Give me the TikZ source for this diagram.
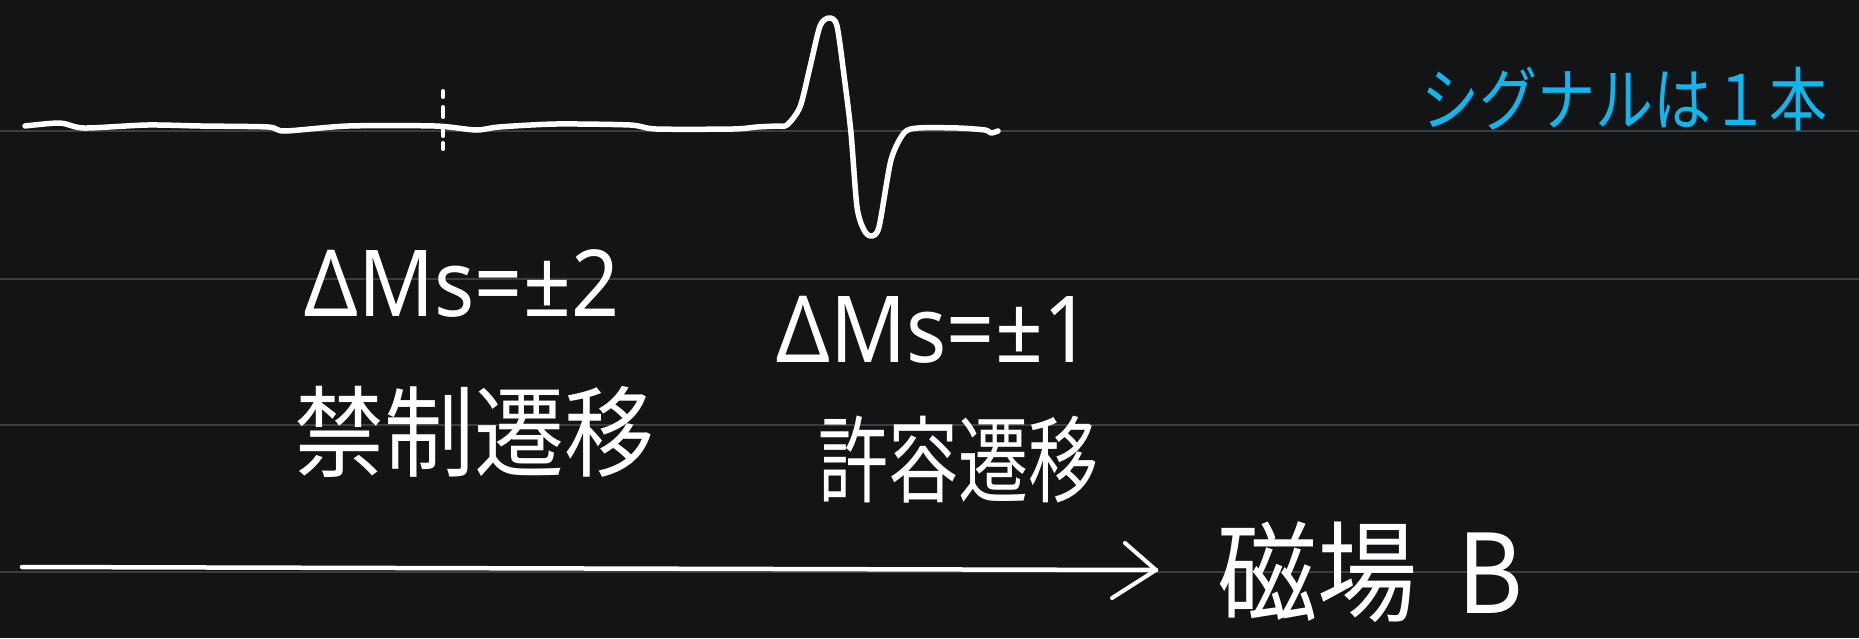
\documentclass[tikz,border=0pt]{standalone}
\usepackage{fontspec}
\setmainfont{Noto Sans CJK JP}
\newfontfamily\latin{Noto Sans}
\definecolor{bg}{HTML}{131416}
\definecolor{ruleline}{HTML}{3C3D40}
\definecolor{ink}{HTML}{FFFFFF}
\definecolor{sky}{HTML}{12B6EF}
\tikzset{
  rulestyle/.style={draw=ruleline, line width=2pt},
  trace/.style={draw=ink, line width=5.5pt, line cap=round, line join=round},
  handtext/.style={text=ink, inner sep=0pt},
}
\begin{document}
\begin{tikzpicture}[x=1pt,y=-1pt]
\fill[bg] (0,0) rectangle (1859,638);
\useasboundingbox (0,0) rectangle (1859,638);
% ruled lines
\foreach \yy in {131,279,425,572} \draw[rulestyle] (0,\yy) -- (1859,\yy);
% signal trace
\draw[trace] plot[smooth, tension=0.45] coordinates {
 (25,126) (60,123) (84,128) (147,125) (201,126) (268,127) (285,131)
 (348,126) (435,126) (476,130) (499,127) (556,124) (630,125) (656,129)
 (733,129) (757,127) (777,126) (787,125) (800,107) (810,67) (820,26)
 (829,18) (837,26) (845,83) (851,133) (857,207) (864,230) (871,236)
 (879,227) (891,160) (904,133) (918,128) (958,128) (985,130) (991,133) (998,131)};
% dashed tick
\draw[trace, line width=4pt] (443,91)--(443,97) (443,107)--(443,117) (443,126)--(443,136) (443,143)--(443,149);
% labels
\node[handtext, font=\latin\fontsize{84}{88}\selectfont] (dmtwo) at (462,284) {\scalebox{1}[1.1]{ΔMs=±2}};
\node[handtext, font=\latin\fontsize{84}{88}\selectfont] (dmone) at (934,330) {\scalebox{1}[1.1]{ΔMs=±1}};
\node[handtext, font=\fontsize{90}{96}\selectfont] (forbidden) at (474,432) {\scalebox{1}[1.1]{禁制遷移}};
\node[handtext, font=\fontsize{70}{76}\selectfont] (allowed) at (958,460) {\scalebox{1}[1.35]{許容遷移}};
\node[handtext, text=sky, font=\fontsize{58}{64}\selectfont] (single) at (1624,99) {\scalebox{1}[1.2]{シグナルは１本}};
\node[handtext, font=\fontsize{100}{106}\selectfont] (field) at (1370,572) {\scalebox{1}[1.1]{磁場\hspace{40pt}B}};
% field arrow
\coordinate (arrowstart) at (22,567);
\coordinate (arrowtip) at (1156,570);
\coordinate (armup) at (1125,543);
\coordinate (armdown) at (1112,598);
\draw[trace, line width=4.5pt] (arrowstart) -- (arrowtip);
\draw[trace, line width=4pt] (armup) -- (arrowtip) -- (armdown);
\end{tikzpicture}
\end{document}
